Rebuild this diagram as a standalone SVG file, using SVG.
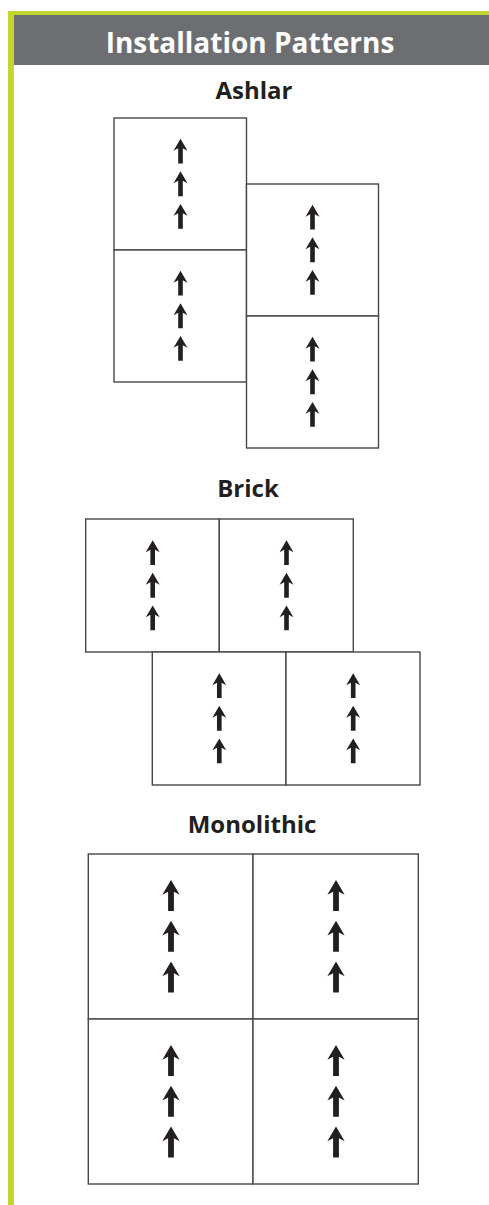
<svg xmlns="http://www.w3.org/2000/svg" width="489" height="1205" viewBox="0 0 489 1205">
<style>
.tile{fill:#ffffff;stroke:#474749;stroke-width:1.4}
.title{font-family:"Open Sans","Noto Sans",sans-serif;font-weight:bold;fill:#ffffff;font-size:28px;text-anchor:middle}
.sub{font-family:"Open Sans","Noto Sans",sans-serif;font-weight:bold;fill:#231f20;font-size:24px;text-anchor:middle}
.arr{fill:#231f20}
</style>
<defs>
<path id="arrow" class="arr" d="M0,0 L8.7,14.8 L2.9,11.8 L2.9,31 L-2.9,31 L-2.9,11.8 L-8.7,14.8 Z"/>
<g id="arrows3">
<use href="#arrow" y="-56.5"/>
<use href="#arrow" y="-15.8"/>
<use href="#arrow" y="24.9"/>
</g>
</defs>
<rect x="0" y="0" width="489" height="1205" fill="#ffffff"/>
<g id="frame">
<rect x="8" y="11" width="481" height="4" fill="#c3d52f"/>
<rect x="8" y="11" width="6" height="1194" fill="#c3d52f"/>
<rect x="14" y="15" width="475" height="50" fill="#6d6e71"/>
<text class="title" x="250" y="53">Installation Patterns</text>
</g>
<g id="ashlar">
<text class="sub" x="254" y="99">Ashlar</text>
<g id="ashlar-tile-1"><rect class="tile" x="114" y="118" width="132.5" height="132"/><use href="#arrows3" transform="translate(180.5,184) scale(0.8)"/></g>
<g id="ashlar-tile-2"><rect class="tile" x="114" y="250" width="132.5" height="132"/><use href="#arrows3" transform="translate(180.5,316) scale(0.8)"/></g>
<g id="ashlar-tile-3"><rect class="tile" x="246.5" y="184" width="132" height="132"/><use href="#arrows3" transform="translate(312.5,250) scale(0.8)"/></g>
<g id="ashlar-tile-4"><rect class="tile" x="246.5" y="316" width="132" height="132"/><use href="#arrows3" transform="translate(312.5,382) scale(0.8)"/></g>
</g>
<g id="brick">
<text class="sub" x="248" y="497">Brick</text>
<g id="brick-tile-1"><rect class="tile" x="85.7" y="519" width="133.6" height="133"/><use href="#arrows3" transform="translate(152.7,585.5) scale(0.8)"/></g>
<g id="brick-tile-2"><rect class="tile" x="219.3" y="519" width="134" height="133"/><use href="#arrows3" transform="translate(286.5,585.5) scale(0.8)"/></g>
<g id="brick-tile-3"><rect class="tile" x="152.3" y="652" width="133.7" height="133"/><use href="#arrows3" transform="translate(219.3,718.5) scale(0.8)"/></g>
<g id="brick-tile-4"><rect class="tile" x="286" y="652" width="134" height="133"/><use href="#arrows3" transform="translate(353.2,718.5) scale(0.8)"/></g>
</g>
<g id="monolithic">
<text class="sub" x="252" y="833">Monolithic</text>
<g id="mono-tile-1"><rect class="tile" x="88.3" y="854" width="164.7" height="165"/><use href="#arrows3" transform="translate(171,936.5)"/></g>
<g id="mono-tile-2"><rect class="tile" x="253" y="854" width="165.3" height="165"/><use href="#arrows3" transform="translate(336,936.5)"/></g>
<g id="mono-tile-3"><rect class="tile" x="88.3" y="1019" width="164.7" height="165"/><use href="#arrows3" transform="translate(171,1101.5)"/></g>
<g id="mono-tile-4"><rect class="tile" x="253" y="1019" width="165.3" height="165"/><use href="#arrows3" transform="translate(336,1101.5)"/></g>
</g>
<g id="connectors"/>
</svg>
